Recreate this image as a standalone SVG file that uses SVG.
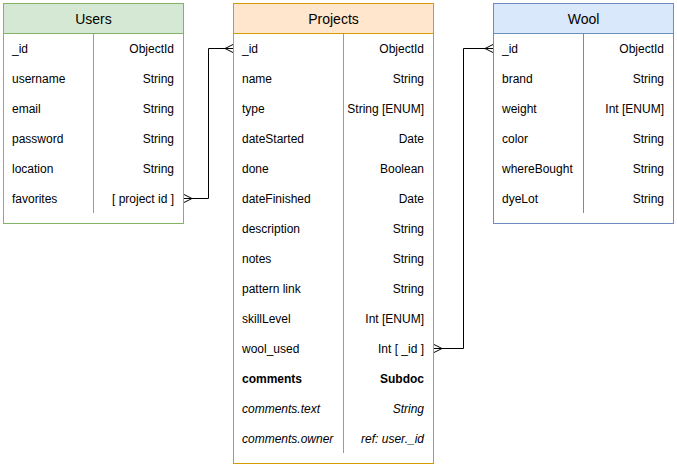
<svg xmlns="http://www.w3.org/2000/svg" width="677" height="467" viewBox="0 0 677 467">
<style>
text{font-family:"Liberation Sans",Arial,sans-serif;font-size:12px;fill:#000}
.h{font-size:14px;text-anchor:middle}
.r{text-anchor:end}
.b{font-weight:bold}
.i{font-style:italic}
.c{fill:none;stroke:#000;stroke-width:1}
</style>
<rect width="677" height="467" fill="#fff"/>
<g id="users">
<rect x="3.5" y="3.5" width="180" height="220" fill="#fff" stroke="#82b366"/>
<rect x="3.5" y="3.5" width="180" height="30" fill="#d5e8d4" stroke="#82b366"/>
<line x1="93.5" y1="33.5" x2="93.5" y2="213" stroke="#82b366"/>
<text class="h" x="93.5" y="24">Users</text>
<g transform="translate(0,1)">
<text x="12" y="52">_id</text><text class="r" x="174" y="52">ObjectId</text>
<text x="12" y="82">username</text><text class="r" x="174" y="82">String</text>
<text x="12" y="112">email</text><text class="r" x="174" y="112">String</text>
<text x="12" y="142">password</text><text class="r" x="174" y="142">String</text>
<text x="12" y="172">location</text><text class="r" x="174" y="172">String</text>
<text x="12" y="202">favorites</text><text class="r" x="174" y="202">[ project id ]</text>
</g>
</g>
<g id="projects">
<rect x="233.5" y="3.5" width="200" height="460" fill="#fff" stroke="#d79b00"/>
<rect x="233.5" y="3.5" width="200" height="30" fill="#ffe6cc" stroke="#d79b00"/>
<line x1="343.5" y1="33.5" x2="343.5" y2="453" stroke="#d79b00"/>
<text class="h" x="333.5" y="24">Projects</text>
<g transform="translate(0,1)">
<text x="242" y="52">_id</text><text class="r" x="424" y="52">ObjectId</text>
<text x="242" y="82">name</text><text class="r" x="424" y="82">String</text>
<text x="242" y="112">type</text><text class="r" x="424" y="112">String [ENUM]</text>
<text x="242" y="142">dateStarted</text><text class="r" x="424" y="142">Date</text>
<text x="242" y="172">done</text><text class="r" x="424" y="172">Boolean</text>
<text x="242" y="202">dateFinished</text><text class="r" x="424" y="202">Date</text>
<text x="242" y="232">description</text><text class="r" x="424" y="232">String</text>
<text x="242" y="262">notes</text><text class="r" x="424" y="262">String</text>
<text x="242" y="292">pattern link</text><text class="r" x="424" y="292">String</text>
<text x="242" y="322">skillLevel</text><text class="r" x="424" y="322">Int [ENUM]</text>
<text x="242" y="352">wool_used</text><text class="r" x="424" y="352">Int [ _id ]</text>
<text class="b" x="242" y="382">comments</text><text class="r b" x="424" y="382">Subdoc</text>
<text class="i" x="242" y="412">comments.text</text><text class="r i" x="424" y="412">String</text>
<text class="i" x="242" y="442">comments.owner</text><text class="r i" x="424" y="442">ref: user._id</text>
</g>
</g>
<g id="wool">
<rect x="493.5" y="3.5" width="180" height="220" fill="#fff" stroke="#6c8ebf"/>
<rect x="493.5" y="3.5" width="180" height="30" fill="#dae8fc" stroke="#6c8ebf"/>
<line x1="583.5" y1="33.5" x2="583.5" y2="213" stroke="#6c8ebf"/>
<text class="h" x="583.5" y="24">Wool</text>
<g transform="translate(0,1)">
<text x="502" y="52">_id</text><text class="r" x="664" y="52">ObjectId</text>
<text x="502" y="82">brand</text><text class="r" x="664" y="82">String</text>
<text x="502" y="112">weight</text><text class="r" x="664" y="112">Int [ENUM]</text>
<text x="502" y="142">color</text><text class="r" x="664" y="142">String</text>
<text x="502" y="172">whereBought</text><text class="r" x="664" y="172">String</text>
<text x="502" y="202">dyeLot</text><text class="r" x="664" y="202">String</text>
</g>
</g>
<g id="connectors">
<path class="c" d="M184 198.5H208.5V48.5H233"/>
<path class="c" d="M184 194.5L192 198.5L184 202.5"/>
<path class="c" d="M233 44.5L225 48.5L233 52.5"/>
<path class="c" d="M434 348.5H463.5V48.5H493"/>
<path class="c" d="M434 344.5L442 348.5L434 352.5"/>
<path class="c" d="M493 44.5L485 48.5L493 52.5"/>
</g>
</svg>
